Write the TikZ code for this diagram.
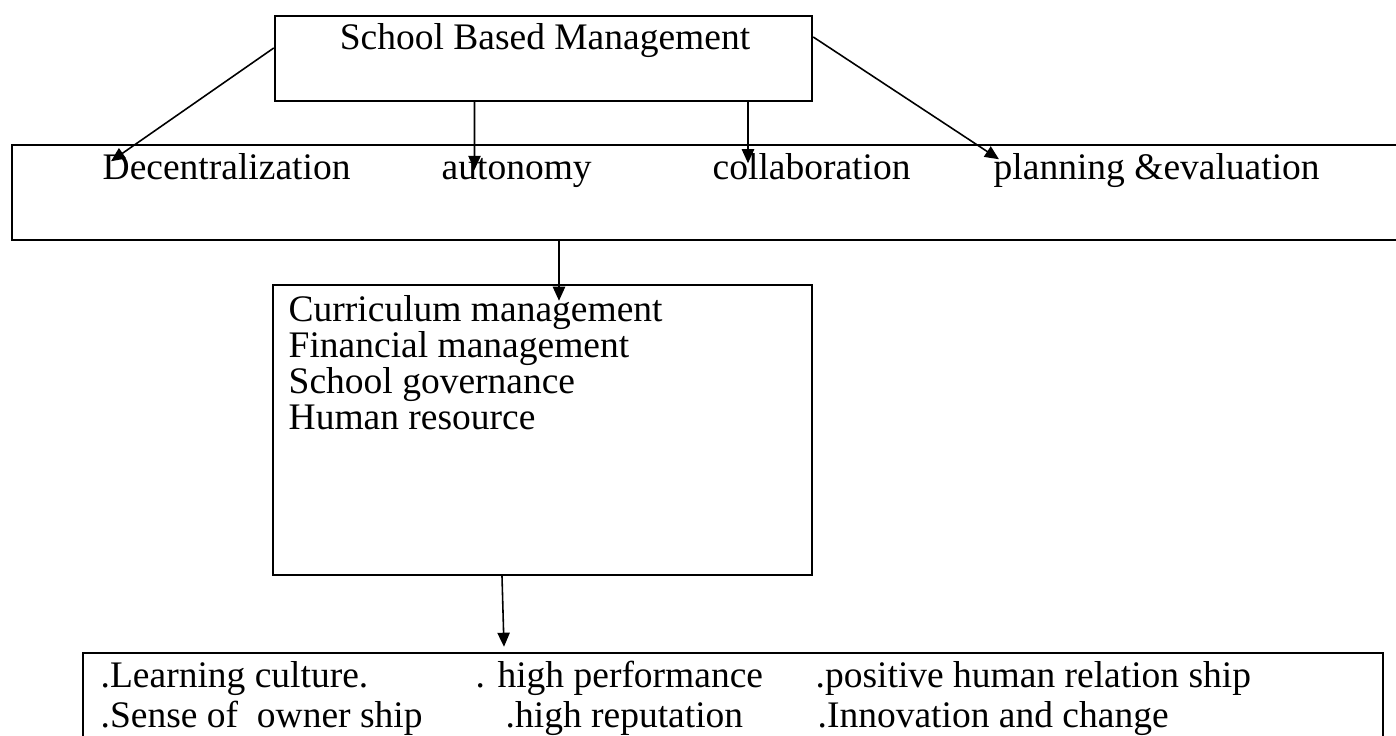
\documentclass[tikz,border=0pt]{standalone}
\usepackage{fontspec}
\setmainfont{Liberation Serif}
\usepackage{tikz}
\usetikzlibrary{arrows.meta}

\tikzset{
    box/.style={draw, line width=0.7pt, inner sep=0pt},
    lbl/.style={inner sep=0pt, anchor=base west, font=\fontsize{10.67pt}{10.67pt}\selectfont},
    arr/.style={-{Triangle[length=4pt, width=3.5pt]}, line width=0.45pt}
}

\begin{document}
\begin{tikzpicture}
    \path[use as bounding box, fill=white] (0,0) rectangle (13.96,7.36);

    % boxes
    \node[box, minimum width=5.37cm, minimum height=0.85cm] (sbm) at (5.435,6.775) {};
    \node[box, minimum width=14.38cm, minimum height=0.95cm] (pillars) at (7.31,5.435) {};
    \node[box, minimum width=5.39cm, minimum height=2.90cm] (areabox) at (5.425,3.06) {};
    \node[box, minimum width=13.0cm, minimum height=1.33cm] (goals) at (7.33,0.165) {};

    % texts
    \node[lbl, anchor=base] (title) at (5.45,6.86) {School Based Management};
    \node[lbl] (dec) at (1.02,5.56) {Decentralization};
    \node[lbl] (aut) at (4.41,5.56) {autonomy};
    \node[lbl] (col) at (7.12,5.56) {collaboration};
    \node[lbl] (plan) at (9.93,5.56) {planning \&evaluation};
    \foreach \txt [count=\i] in {Curriculum management, Financial management,
        School governance, Human resource}
        \node[lbl] (area\i) at (2.88,4.50-0.36*\i) {\txt};
    \node[lbl] (learn) at (1.00,0.48) {.Learning culture.};
    \node[lbl] (perf) at (4.75,0.48) {. high performance};
    \node[lbl] (rel) at (8.15,0.48) {.positive human relation ship};
    \node[lbl] (own) at (1.00,0.08) {.Sense of \ owner ship};
    \node[lbl] (rep) at (5.05,0.08) {.high reputation};
    \node[lbl] (inno) at (8.17,0.08) {.Innovation and change};

    % arrows
    \draw[arr] ([yshift=0.105cm]sbm.west) -- ([xshift=0.09cm, yshift=-0.08cm]dec.north west);
    \draw[arr] ([xshift=-0.69cm]sbm.south) -- ([xshift=0.335cm, yshift=-0.117cm]aut.north west);
    \draw[arr] ([xshift=2.045cm]sbm.south) -- ([xshift=0.36cm, yshift=-0.1cm]col.north west);
    \draw[arr] ([yshift=0.215cm]sbm.east) -- ([xshift=0.06cm, yshift=-0.06cm]plan.north west);
    \draw[arr] ([xshift=-1.72cm]pillars.south) -- ([xshift=0.165cm, yshift=-0.17cm]areabox.north);
    \draw[arr] ([xshift=-0.405cm]areabox.south) -- ([xshift=-2.29cm, yshift=0.05cm]goals.north);
\end{tikzpicture}
\end{document}
